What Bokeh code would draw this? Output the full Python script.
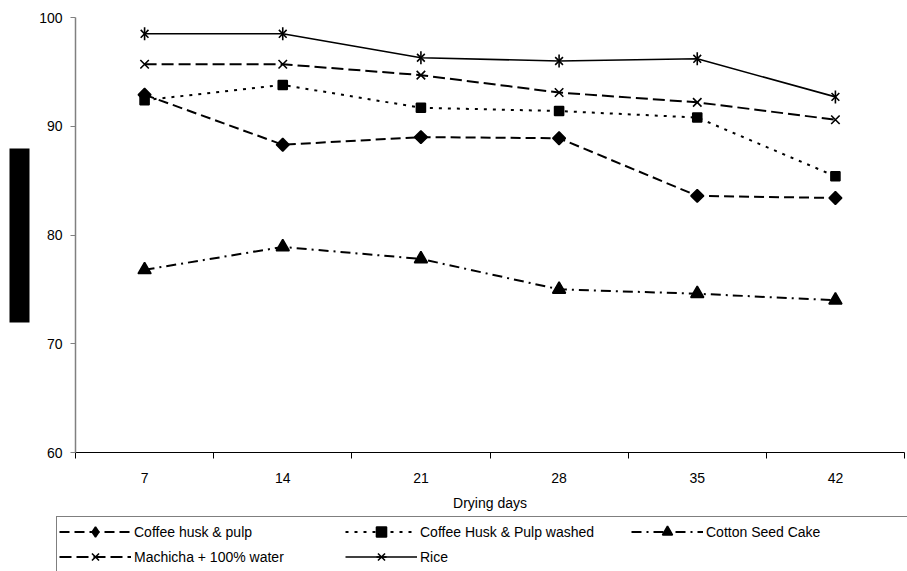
import numpy as np
from bokeh.plotting import figure
from bokeh.layouts import column, row
from bokeh.models import Range1d, FixedTicker, Legend, LegendItem, BoxAnnotation
from bokeh.embed import file_html
from bokeh.resources import INLINE

# ---- data ----
days = [7, 14, 21, 28, 35, 42]
y_ticks = [60, 70, 80, 90, 100]
coffee_husk_pulp = [92.9, 88.3, 89.0, 88.9, 83.6, 83.4]
coffee_husk_pulp_washed = [92.4, 93.8, 91.7, 91.4, 90.8, 85.4]
cotton_seed_cake = [76.8, 78.9, 77.8, 75.0, 74.6, 74.0]
machicha_water = [95.7, 95.7, 94.7, 93.1, 92.2, 90.6]
rice = [98.5, 98.5, 96.3, 96.0, 96.2, 92.7]
series_names = ["Coffee husk & pulp", "Coffee Husk & Pulp washed", "Cotton Seed Cake",
                "Machicha + 100% water", "Rice"]
x_label = "Drying days"

FONT = "Liberation Sans"
W, H = 907, 571
LEFT_W = 35          # strip holding the blacked-out y title
MAIN_H = 514         # main chart height; legend strip below
FRAME_TOP, FRAME_BOTTOM = 17, 452

# styles: (chart markers, legend markers, dash, line width)
styles = [
    ([("square", 9, np.pi / 4)], ["diamond"], "10 5", 2),
    ([("square", 9, 0)], ["square"], "3 6", 2),
    ([("triangle", 13, 0)], ["triangle"], "10 5 2 5", 2),
    ([("x", 12, 0)], ["x"], "12 5", 2),
    ([("x", 11, 0), ("dash", 13, np.pi / 2)], ["x", "dash"], "solid", 1.6),
]
values = [coffee_husk_pulp, coffee_husk_pulp_washed, cotton_seed_cake, machicha_water, rice]

# ---------------- main chart ----------------
p = figure(width=W - LEFT_W, height=MAIN_H,
           x_range=Range1d(days[0] - 3.5, days[-1] + 3.5),
           y_range=Range1d(y_ticks[0], y_ticks[-1]),
           output_backend="svg", toolbar_location=None,
           min_border_left=75 - LEFT_W, min_border_right=3, min_border_top=FRAME_TOP,
           min_border_bottom=MAIN_H - FRAME_BOTTOM)
p.outline_line_color = None
p.xgrid.grid_line_color = None
p.ygrid.grid_line_color = None
p.background_fill_color = "white"
p.border_fill_color = "white"

for name, vals, (markers, _lm, dash, lw) in zip(series_names, values, styles):
    p.line(days, vals, line_color="black", line_width=lw, line_dash=dash)
    for mk, sz, ang in markers:
        p.scatter(days, vals, marker=mk, size=sz, angle=ang,
                  fill_color="black", line_color="black", line_width=1.6)

xa = p.xaxis[0]
xa.ticker = FixedTicker(ticks=days, minor_ticks=[d - 3.5 for d in days] + [days[-1] + 3.5])
xa.major_tick_out = 0
xa.major_tick_in = 0
xa.minor_tick_out = 6
xa.minor_tick_in = 0
xa.minor_tick_line_color = "black"
xa.axis_line_color = "black"
xa.axis_line_width = 1
xa.major_label_text_font = FONT
xa.major_label_text_font_size = "14px"
xa.major_label_text_color = "black"
xa.major_label_standoff = 14
xa.axis_label = x_label
xa.axis_label_text_font = FONT
xa.axis_label_text_font_size = "14px"
xa.axis_label_text_font_style = "normal"
xa.axis_label_text_color = "black"
xa.axis_label_standoff = 9

ya = p.yaxis[0]
ya.ticker = FixedTicker(ticks=y_ticks)
ya.minor_tick_line_color = None
ya.major_tick_out = 5
ya.major_tick_in = 0
ya.major_tick_line_color = "#808080"
ya.axis_line_color = "#808080"
ya.axis_line_width = 1.5
ya.major_label_text_font = FONT
ya.major_label_text_font_size = "14px"
ya.major_label_text_color = "black"
ya.major_label_standoff = 8

# ---------------- left strip: blacked-out y title ----------------
side = figure(width=LEFT_W, height=MAIN_H, x_range=Range1d(0, LEFT_W),
              y_range=Range1d(FRAME_BOTTOM, FRAME_TOP),
              x_axis_type=None, y_axis_type=None, output_backend="svg",
              toolbar_location=None, min_border_left=0, min_border_right=0,
              min_border_top=FRAME_TOP, min_border_bottom=MAIN_H - FRAME_BOTTOM)
side.outline_line_color = None
side.add_layout(BoxAnnotation(left=9, right=29, top=148, bottom=322,
                              fill_color="black", fill_alpha=1, line_color=None))

# ---------------- legend strip ----------------
# the series are drawn here outside the visible ranges; only their legend keys show
LEG_H = H - MAIN_H
leg = figure(width=W, height=LEG_H, x_range=Range1d(0, 1), y_range=Range1d(0, 1),
             x_axis_type=None, y_axis_type=None, output_backend="svg",
             toolbar_location=None, min_border=0)
leg.outline_line_color = None
items = []
for name, vals, (_cm, lmarkers, dash, lw) in zip(series_names, values, styles):
    rs = [leg.line(days, vals, line_color="black", line_width=lw, line_dash=dash)]
    for mk in lmarkers:
        rs.append(leg.scatter(days, vals, marker=mk, size=10,
                              fill_color="black", line_color="black", line_width=1.6))
    items.append(LegendItem(label=name, renderers=rs))

legend = Legend(items=items, location=(56, -1), orientation="horizontal", nrows=2,
                border_line_color="black", border_line_width=1,
                background_fill_color="white", background_fill_alpha=1,
                label_text_font=FONT, label_text_font_size="14px", label_text_color="black",
                glyph_width=72, glyph_height=25, label_height=16, label_width=211,
                label_standoff=3, spacing=0, padding=2, margin=0)
leg.add_layout(legend, "center")

layout = column(row(side, p, spacing=0), leg, spacing=0)
open("out.html", "w").write(file_html(layout, INLINE))
